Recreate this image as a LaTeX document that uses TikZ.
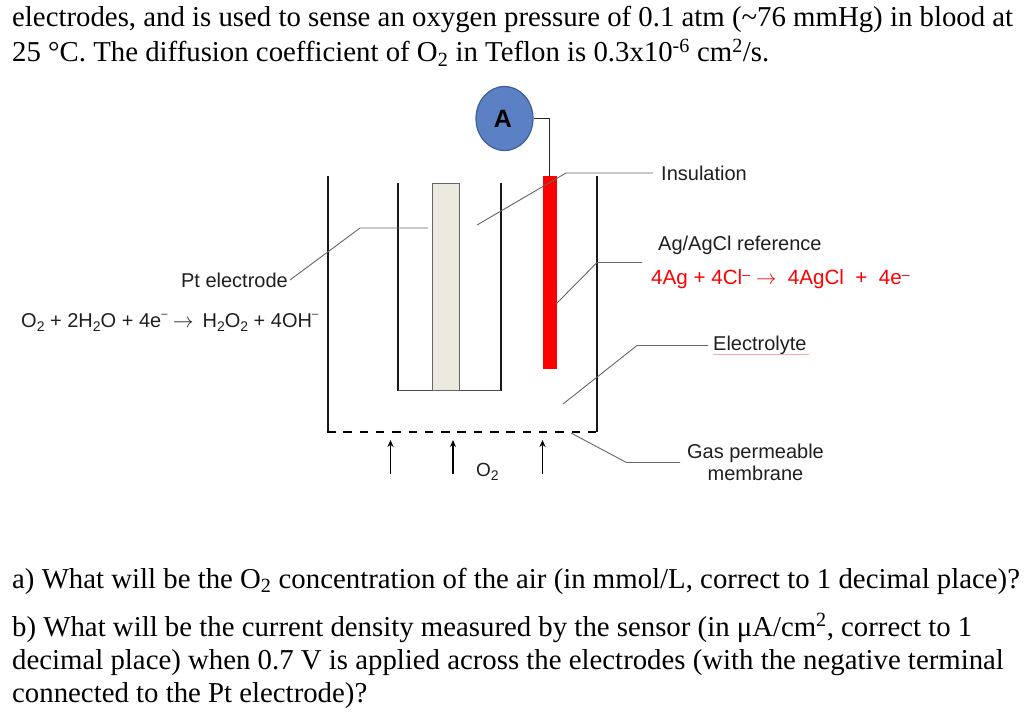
\documentclass[tikz,border=0pt]{standalone}
\usepackage{fontspec}
\usepackage{xcolor}
\usetikzlibrary{shapes.geometric,arrows.meta}
\setmainfont{Liberation Serif}
\setsansfont{Liberation Sans}
\definecolor{ammeterblue}{HTML}{5B80C4}
\definecolor{ammeteredge}{HTML}{3F5F98}
\definecolor{electrodefill}{HTML}{ECEADF}
\newcommand{\under}[1]{\textsubscript{#1}}
\newcommand{\chemsub}[1]{\raisebox{-4pt}{\fontsize{14}{14}\selectfont #1}}
\newcommand{\chemsup}{\raisebox{10pt}{\fontsize{11}{11}\selectfont --}}
\newcommand{\redsup}{\raisebox{5pt}{\fontsize{14}{14}\selectfont --}}
\begin{document}
\begin{tikzpicture}[x=1pt,y=-1pt,
  para/.style={anchor=base west,inner sep=0pt,font=\fontsize{28.8}{32}\selectfont},
  lab/.style={anchor=base west,inner sep=0pt,font=\sffamily\fontsize{20}{22}\selectfont,text=black!88},
  wall/.style={line width=2pt,black!90},
  leader/.style={line width=0.9pt,black!60},
  flow/.style={line width=1.8pt,-{Stealth[length=7pt,width=6pt]}}]
\useasboundingbox (0,0) rectangle (1024,714);
\node[para] (line1) at (12,27) {electrodes, and is used to sense an oxygen pressure of 0.1 atm (\textasciitilde76 mmHg) in blood at};
\node[para] (line2) at (12,62) {25 °C. The diffusion coefficient of O\under{2} in Teflon is 0.3x10\textsuperscript{-6} cm\textsuperscript{2}/s.};
\node[para] (quesa) at (12,588) {a) What will be the O\under{2} concentration of the air (in mmol/L, correct to 1 decimal place)?};
\node[para] (quesb1) at (12,636) {b) What will be the current density measured by the sensor (in μA/cm\textsuperscript{2}, correct to 1};
\node[para] (quesb2) at (12,669) {decimal place) when 0.7 V is applied across the electrodes (with the negative terminal};
\node[para] (quesb3) at (12,702) {connected to the Pt electrode)?};
\draw[wall] (328,176)--(328,432);\draw[wall] (597,176)--(597,432);
\draw[line width=2.2pt,dash pattern=on 8.5pt off 7.8pt] (327,432)--(598,432);
\draw[wall] (397.5,183)--(397.5,390.5);\draw[wall] (501,183)--(501,390.5);
\draw[line width=1pt,black!70] (397.5,390.5)--(501,390.5);
\node[draw=black!60,line width=1pt,fill=electrodefill,minimum width=27.5pt,minimum height=207.5pt,inner sep=0pt] (pt) at (446,287) {};
\node[fill=red,minimum width=14pt,minimum height=193pt,inner sep=0pt] (agcl) at (549.5,272.5) {};
\node[ellipse,draw=ammeteredge,line width=1.2pt,fill=ammeterblue,minimum width=57pt,minimum height=64pt,inner sep=0pt,font=\sffamily\bfseries\fontsize{25}{30}\selectfont] (ammeter) at (504.5,118.5) {\kern-3pt A};
\draw[line width=1.4pt,black!85] (ammeter.east)-|(agcl.north);
\node[lab] (insul) at (661,180) {Insulation};
\node[lab] (ref) at (658,250) {Ag/AgCl reference};
\node[lab,text=red,font=\sffamily\fontsize{20.6}{22}\selectfont] (refeq) at (651,284) {4Ag + 4Cl\redsup{} $\rightarrow$ \ 4AgCl \ + \ 4e\redsup};
\node[lab] (elyte) at (713,350) {Electrolyte};
\node[lab,anchor=base,align=center] (memb) at (755.5,480) {Gas permeable\\membrane};
\node[lab,anchor=base east] (ptlab) at (288,287) {Pt electrode};
\node[lab] (pteq) at (21,327) {O\chemsub{2} + 2H\chemsub{2}O + 4e\chemsup{} $\rightarrow$ \,H\chemsub{2}O\chemsub{2} + 4OH\chemsup};
\node[lab,font=\sffamily\fontsize{19}{20}\selectfont] (otwo) at (476,476) {O\chemsub{2}};
\coordinate (insulend) at (477,225);
\coordinate (ptend) at (428,228);
\coordinate (refend) at (556,304);
\coordinate (elyteend) at (563,404);
\coordinate (membend) at (571,433);
\draw[leader] (insulend)--(566,173)--(653,173);
\draw[leader] (ptend)--(360,228)--(290,280);
\draw[leader] (refend)--(597,262.5)--(642,262.5);
\draw[leader] (elyteend)--(637,345.5)--(708,345.5);
\draw[leader] (membend)--(626.5,462.5)--(680,462.5);
\draw[line width=0.6pt,red!35] (713,354)--(809,354);
\draw[flow] (390.5,474)--(390.5,440);
\draw[flow] (453,474)--(453,440);
\draw[flow] (542.5,474)--(542.5,440);
\end{tikzpicture}
\end{document}
